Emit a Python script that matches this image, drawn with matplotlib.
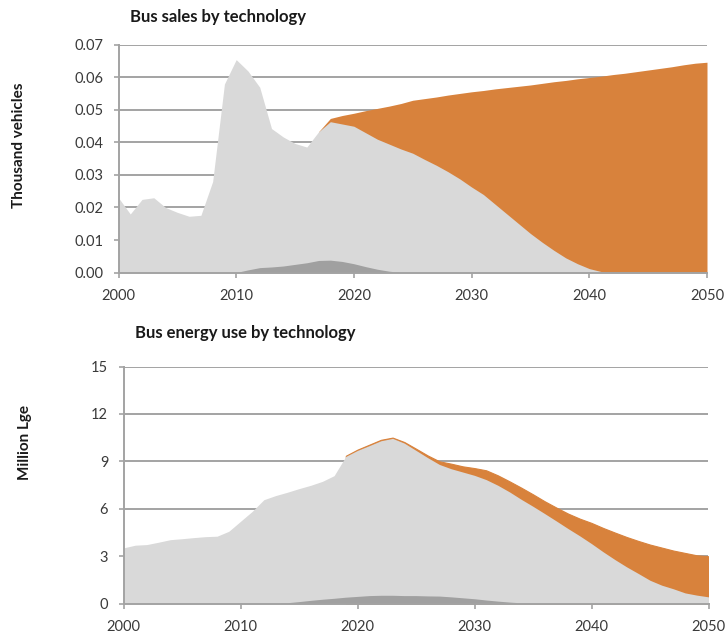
import numpy as np
import matplotlib
matplotlib.use("Agg")
import matplotlib.pyplot as plt

plt.rcParams['font.family'] = ['Lato', 'DejaVu Sans']

years = list(range(2000, 2051))

# ---- Bus sales (thousand vehicles), stacked boundaries ----
sales_dark = [0]*11 + [0.0008, 0.0015, 0.0017, 0.0020, 0.0025, 0.0030, 0.0037, 0.0038,
                       0.0034, 0.0027, 0.0018, 0.0010, 0.0004, 0.0] + [0.0]*26
sales_conv_top = [0.023, 0.018, 0.0225, 0.023, 0.020, 0.0185, 0.0173, 0.0176, 0.028, 0.058,
                  0.0655, 0.0620, 0.057, 0.0443, 0.0417, 0.0397, 0.0386, 0.0433, 0.0464, 0.0457,
                  0.0450, 0.0430, 0.0410, 0.0395, 0.0380, 0.0367, 0.0348, 0.0330, 0.0310, 0.0288,
                  0.0263, 0.0240, 0.0210, 0.0180, 0.0150, 0.0120, 0.0093, 0.0068, 0.0045, 0.0027,
                  0.0012, 0.0003, 0.0, 0.0, 0.0, 0.0, 0.0, 0.0, 0.0, 0.0, 0.0]
sales_elec_years = list(range(2017, 2051))
sales_elec_top = [0.0433, 0.0474, 0.0483, 0.0490, 0.0498, 0.0505, 0.0512, 0.0520, 0.0530, 0.0535,
                  0.0540, 0.0546, 0.0551, 0.0556, 0.0560, 0.0565, 0.0569, 0.0573, 0.0577, 0.0582,
                  0.0587, 0.0591, 0.0596, 0.0600, 0.0604, 0.0609, 0.0613, 0.0618, 0.0623, 0.0628,
                  0.0633, 0.0639, 0.0644, 0.0647]

# ---- Bus energy use (million Lge), stacked boundaries ----
energy_dark = [0]*14 + [0.05, 0.12, 0.20, 0.27, 0.33, 0.40, 0.45, 0.50, 0.52, 0.52, 0.50, 0.50,
                        0.48, 0.47, 0.42, 0.36, 0.30, 0.22, 0.15, 0.09, 0.04, 0.01] + [0.0]*15
energy_conv_top = [3.52, 3.69, 3.73, 3.88, 4.04, 4.10, 4.17, 4.23, 4.26, 4.57,
                   5.20, 5.83, 6.57, 6.83, 7.04, 7.27, 7.48, 7.73, 8.09, 9.31,
                   9.69, 9.99, 10.30, 10.45, 10.15, 9.69, 9.23, 8.80, 8.53, 8.32,
                   8.11, 7.84, 7.48, 7.06, 6.59, 6.15, 5.69, 5.22, 4.74, 4.28,
                   3.79, 3.27, 2.78, 2.32, 1.90, 1.47, 1.16, 0.93, 0.67, 0.53, 0.42]
energy_elec_years = list(range(2019, 2051))
energy_elec_top = [9.35, 9.74, 10.05, 10.36, 10.50, 10.22, 9.80, 9.37, 9.00, 8.85,
                   8.68, 8.57, 8.43, 8.11, 7.73, 7.33, 6.91, 6.47, 6.07, 5.69,
                   5.37, 5.10, 4.78, 4.49, 4.21, 3.96, 3.73, 3.54, 3.35, 3.20,
                   3.05, 2.99]

sales_yticks = [0.00, 0.01, 0.02, 0.03, 0.04, 0.05, 0.06, 0.07]
energy_yticks = [0, 3, 6, 9, 12, 15]
xticks = [2000, 2010, 2020, 2030, 2040, 2050]

C_LIGHT = '#d9d9d9'
C_DARK = '#a0a0a0'
C_ORANGE = '#d8823c'
C_GRID = '#a3a3a3'
C_TEXT = '#3a3a3a'

fig = plt.figure(figsize=(7.25, 6.37), dpi=100)
ax1 = fig.add_axes([118.5/725, 1 - 272.5/637, (707 - 118.5)/725, (272.5 - 45)/637])
ax2 = fig.add_axes([123.5/725, 1 - 603.5/637, (708.5 - 123.5)/725, (603.5 - 366.5)/637])


def style(ax, yticks, fmt):
    ax.set_xlim(2000, 2050)
    ax.set_ylim(yticks[0], yticks[-1])
    ax.set_yticks(yticks)
    ax.set_yticklabels([fmt(v) for v in yticks])
    ax.set_xticks(xticks)
    ax.set_axisbelow(True)
    ax.yaxis.grid(True, color=C_GRID, linewidth=1.4)
    ax.xaxis.grid(False)
    for s in ['top', 'right']:
        ax.spines[s].set_visible(False)
    for s in ['left', 'bottom']:
        ax.spines[s].set_color(C_GRID)
        ax.spines[s].set_linewidth(1.4)
        ax.spines[s].set_zorder(5)
    ax.tick_params(axis='both', direction='out', length=3.5, width=1.2, color=C_GRID,
                   labelsize=10.5, labelcolor=C_TEXT)
    ax.tick_params(axis='x', pad=8.5)
    ax.tick_params(axis='y', pad=7.5)


# Top chart
ax1.fill_between(sales_elec_years, 0, sales_elec_top, color=C_ORANGE, linewidth=0, zorder=2)
ax1.fill_between(years, 0, sales_conv_top, color=C_LIGHT, linewidth=0, zorder=3)
ax1.fill_between(years, 0, sales_dark, color=C_DARK, linewidth=0, zorder=4)
style(ax1, sales_yticks, lambda v: f"{v:.2f}")

# Bottom chart
ax2.fill_between(energy_elec_years, 0, energy_elec_top, color=C_ORANGE, linewidth=0.8,
                 edgecolor=C_ORANGE, zorder=2)
ax2.fill_between(years, 0, energy_conv_top, color=C_LIGHT, linewidth=0, zorder=3)
ax2.fill_between(years, 0, energy_dark, color=C_DARK, linewidth=0, zorder=4)
style(ax2, energy_yticks, lambda v: f"{v:d}")

fig.text(130/725, 1 - 17/637, "Bus sales by technology", fontsize=12, fontweight='bold',
         ha='left', va='center', color='#1a1a1a')
fig.text(135/725, 1 - 333/637, "Bus energy use by technology", fontsize=12, fontweight='bold',
         ha='left', va='center', color='#1a1a1a')
fig.text(19/725, 1 - 145/637, "Thousand vehicles", fontsize=11, fontweight='bold',
         rotation=90, ha='center', va='center', color='#1a1a1a')
fig.text(25/725, 1 - 442/637, "Million Lge", fontsize=11, fontweight='bold',
         rotation=90, ha='center', va='center', color='#1a1a1a')

fig.savefig("out.png", dpi=100)
